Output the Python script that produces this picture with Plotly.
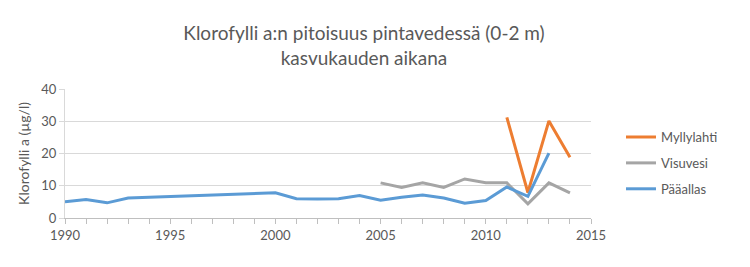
import plotly.graph_objects as go

# Data
paa_years = [1990, 1991, 1992, 1993, 2000, 2001, 2002, 2003, 2004, 2005, 2006, 2007, 2008, 2009, 2010, 2011, 2012, 2013]
paa_vals = [5.0, 5.7, 4.7, 6.2, 7.8, 6.0, 5.9, 6.0, 7.0, 5.5, 6.4, 7.1, 6.2, 4.6, 5.4, 9.6, 6.7, 20.1]

vis_years = [2005, 2006, 2007, 2008, 2009, 2010, 2011, 2012, 2013, 2014]
vis_vals = [10.9, 9.5, 10.9, 9.5, 12.1, 10.9, 10.9, 4.4, 10.9, 7.8]

myl_years = [2011, 2012, 2013, 2014]
myl_vals = [31.2, 7.9, 30.1, 18.8]

series_names = ["Myllylahti", "Visuvesi", "Pääallas"]
colors = ["#ED7D31", "#A5A5A5", "#5B9BD5"]

title_text = "Klorofylli a:n pitoisuus pintavedessä (0-2 m)<br>kasvukauden aikana"
y_title = "Klorofylli a (µg/l)"

FONT = "Lato, 'Open Sans', sans-serif"
TXT = "#595959"

fig = go.Figure()
for name, xs, ys, c in zip(series_names,
                           [myl_years, vis_years, paa_years],
                           [myl_vals, vis_vals, paa_vals],
                           colors):
    fig.add_trace(go.Scatter(x=xs, y=ys, mode="lines", name=name, legendgroup=name,
                             line=dict(color=c, width=3)))

fig.update_layout(
    width=750, height=267,
    margin=dict(l=65, r=159, t=89, b=49),
    paper_bgcolor="white", plot_bgcolor="white",
    font=dict(family=FONT, color=TXT, size=13),
    title=dict(text=title_text, x=364 / 750, xanchor="center", xref="container",
               y=1 - 40 / 267, yref="container", yanchor="middle",
               font=dict(size=19, color=TXT, family=FONT)),
    legend=dict(x=1.057, xanchor="left", y=0.426, yanchor="middle",
                tracegroupgap=6, traceorder="grouped",
                font=dict(size=13, color=TXT, family=FONT)),
    xaxis=dict(range=[1990, 2015], dtick=5, tick0=1990, showgrid=False,
               showline=True, linecolor="#BFBFBF", linewidth=1,
               ticks="outside", ticklen=5, tickcolor="#BFBFBF",
               minor=dict(dtick=1, ticks="outside", ticklen=5, tickcolor="#BFBFBF"),
               zeroline=False, tickfont=dict(size=13, color=TXT)),
    yaxis=dict(range=[0, 40], dtick=10, showgrid=True, gridcolor="#D9D9D9",
               showline=True, linecolor="#D9D9D9", linewidth=1,
               ticks="outside", ticklen=5, tickcolor="#D9D9D9",
               zeroline=False, tickfont=dict(size=13, color=TXT),
               title=dict(text=y_title, font=dict(size=14, color=TXT), standoff=8)),
)

fig.write_html("out.html")
